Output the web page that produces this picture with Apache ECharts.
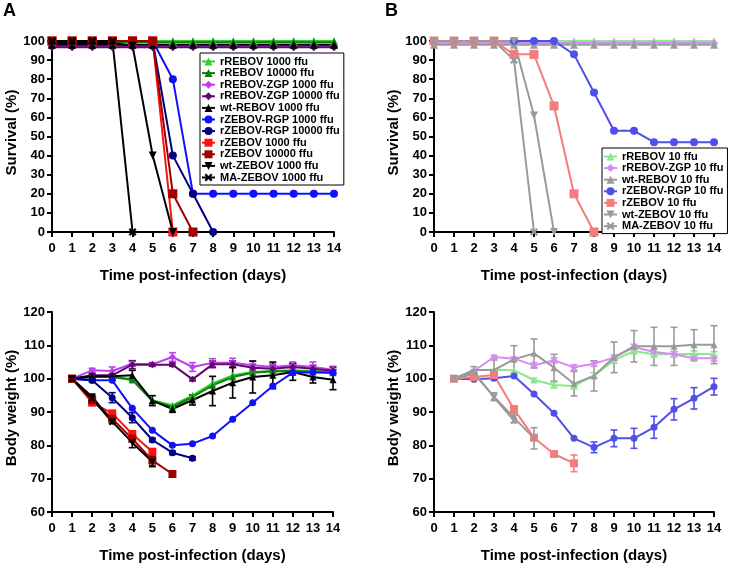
<!DOCTYPE html>
<html>
<head>
<meta charset="utf-8">
<title>Survival and body weight</title>
<script src="https://cdn.jsdelivr.net/npm/echarts@6/dist/echarts.min.js"></script>
<style>
  html, body { margin: 0; padding: 0; background: #fff; }
  #chart { width: 734px; height: 569px; }
</style>
</head>
<body>
<div id="chart"></div>
<script>
// === 数据 (index = day) ===
const days = [0, 1, 2, 3, 4, 5, 6, 7, 8, 9, 10, 11, 12, 13, 14]
const survTicks = [0, 10, 20, 30, 40, 50, 60, 70, 80, 90, 100]
const weightTicks = [60, 70, 80, 90, 100, 110, 120]

// A 存活率 (%)
const sA_rREBOV1000 = [100, 100, 100, 100, 100, 100, 100, 100, 100, 100, 100, 100, 100, 100, 100]
const sA_rREBOV10000 = [99.3, 99.3, 99.3, 99.3, 99.3, 99.3, 99.3, 99.3, 99.3, 99.3, 99.3, 99.3, 99.3, 99.3, 99.3]
const sA_ZGP1000 = [97.3, 97.3, 97.3, 97.3, 97.3, 97.3, 97.3, 97.3, 97.3, 97.3, 97.3, 97.3, 97.3, 97.3, 97.3]
const sA_ZGP10000 = [96.7, 96.7, 96.7, 96.7, 96.7, 96.7, 96.7, 96.7, 96.7, 96.7, 96.7, 96.7, 96.7, 96.7, 96.7]
const sA_wtREBOV = [98, 98, 98, 98, 98, 98, 98, 98, 98, 98, 98, 98, 98, 98, 98]
const sA_RGP1000 = [100, 100, 100, 100, 100, 100, 80, 20, 20, 20, 20, 20, 20, 20, 20]
const sA_RGP10000 = [100, 100, 100, 100, 100, 100, 40, 20, 0]
const sA_rZEBOV1000 = [100, 100, 100, 100, 100, 100, 0]
const sA_rZEBOV10000 = [100, 100, 100, 100, 100, 100, 20, 0]
const sA_wtZEBOV = [99, 99, 99, 99, 97.5, 40, 0]
const sA_MAZEBOV = [100, 100, 100, 100, 0]

// A 体重 (%)
const wA_rREBOV1000 = [null, 100, 100.5, 100.5, 99.5, 93.5, 92, 95, 98.6, 101, 102, 102.3, 102.5, 102.3, 102]
const wA_rREBOV10000 = [null, 100, 100.5, 100.5, 99.8, 93.3, 91.5, 94.5, 98, 100.5, 101.8, 102.2, 102.3, 102, 101.8]
const wA_ZGP1000 = [null, 100, 102.5, 102.3, 104.5, 104.3, 106.5, 103.5, 104.8, 104.8, 104, 103.5, 104, 103.5, 102.7]
const wA_ZGP10000 = [null, 100, 101, 101, 104.2, 104.2, 104.2, 99.8, 104.3, 104.3, 103.3, 103, 103.5, 103, 102.4]
const wA_wtREBOV = [null, 100, 100.8, 100.7, 101, 93.4, 90.9, 93.6, 96.3, 98.8, 100.5, 101, 102, 100.5, 99.7]
const wA_RGP1000 = [null, 100, 99.5, 99.5, 91.1, 84.5, 80, 80.5, 82.8, 87.8, 92.8, 97.8, 101.8, 101.9, 101.8]
const wA_RGP10000 = [null, 100, 99.5, 94.3, 88.3, 81.6, 77.8, 76.1]
const wA_rZEBOV1000 = [null, 100, 92.8, 89.6, 83.4, 78.1]
const wA_rZEBOV10000 = [null, 100, 93.5, 88, 82, 75.5, 71.4]
const wA_wtZEBOV = [null, 100, 94.6, 87.1, 80.8, 75.1]
const wA_MAZEBOV = [null, 100, 94, 87]

// A 误差 (±)
const eA_ZGP1000 = [null, 0, 0.6, 1.2, 0.8, 0.5, 1.3, 1.3, 1.2, 1.3, 1.2, 1, 1, 1.5, 1]
const eA_ZGP10000 = [null, 0, 0.5, 0.5, 1.2, 0.5, 0.5, 0.5, 1, 1, 1, 1, 1, 1, 1]
const eA_wtREBOV = [null, 0, 0.5, 0.5, 1.5, 1.5, 1, 1.5, 4.4, 4.6, 4.8, 4, 2.5, 1.8, 3]
const eA_RGP10000 = [null, 0, 0.5, 1.5, 1.5, 0.5, 0.5, 0.5]
const eA_rZEBOV10000 = [null, 0, 0.5, 0.5, 1, 1.5, 0.5]
const eA_wtZEBOV = [null, 0, 0.5, 0.5, 1.5, 1.5]

// B 存活率 (%)
const sB_rREBOV10 = [100, 100, 100, 100, 100, 100, 100, 100, 100, 100, 100, 100, 100, 100, 100]
const sB_ZGP10 = [99, 99, 99, 99, 99, 99, 99, 99, 99, 99, 99, 99, 99, 99, 99]
const sB_wtREBOV10 = [98, 98, 98, 98, 98, 98, 98, 98, 98, 98, 98, 98, 98, 98, 98]
const sB_RGP10 = [100, 100, 100, 100, 100, 100, 100, 93, 73, 53, 53, 47, 47, 47, 47]
const sB_rZEBOV10 = [100, 100, 100, 100, 93, 93, 66, 20, 0]
const sB_wtZEBOV10 = [100, 100, 100, 100, 100, 61, 0]
const sB_MAZEBOV10 = [100, 100, 100, 100, 90, 0]

// B 体重 (%)
const wB_rREBOV10 = [null, 100, 102.5, 102.7, 102.5, 99.6, 98.1, 97.8, 101, 105.5, 108.3, 107.3, 107.3, 107.5, 107.3]
const wB_ZGP10 = [null, 100, 102.3, 106.5, 106, 104, 105.5, 103.4, 104.5, 106.3, 109.5, 108, 107.3, 106.1, 106.1]
const wB_wtREBOV10 = [null, 100, 102.6, 102.6, 105.8, 107.6, 103.3, 98.5, 100.8, 106.4, 109.7, 109.7, 109.7, 110.2, 110.2]
const wB_RGP10 = [null, 100, 99.8, 100.1, 100.8, 95.4, 89.6, 82.1, 79.4, 82.1, 82.1, 85.4, 90.8, 94.1, 97.6]
const wB_rZEBOV10 = [null, 100, 100.5, 101.1, 90.8, 82.3, 77.4, 74.6]
const wB_wtZEBOV10 = [null, 100, 101.5, 94.6, 88.3, 82.1]
const wB_MAZEBOV10 = [null, 100, 102, 94.4, 87.4]

// B 误差 (±)
const eB_rREBOV10 = [null, 0, 0, 0, 0, 0.5, 0.8, 0.8, 0.8, 0.8, 0.8, 0.8, 0.8, 0.8, 0.8]
const eB_ZGP10 = [null, 0, 0, 0.5, 0.5, 0.8, 0.8, 0.8, 0.8, 0.8, 0.8, 0.8, 0.8, 0.8, 0.8]
const eB_wtREBOV10 = [null, 0, 1, 3, 4.1, 4.3, 4, 3.7, 4.5, 4.6, 4.7, 5.7, 5.7, 4.5, 5.7]
const eB_RGP10 = [null, 0, 0, 0, 0, 0, 0, 0, 1.6, 2.5, 3, 3.3, 3.2, 3.2, 2.5]
const eB_rZEBOV10 = [null, 0, 0, 0, 1, 0.5, 0.5, 2.5]
const eB_wtZEBOV10 = [null, 0, 0.5, 1.2, 1.5, 3.2]

// 组别 (名称, 颜色, 符号)
const X_PATH = 'path://M0,2L2,0L5,3L8,0L10,2L7,5L10,8L8,10L5,7L2,10L0,8L3,5Z'
const groupsA = [
  { name: 'rREBOV 1000 ffu', color: '#33cc33', symbol: 'triangle', surv: sA_rREBOV1000, weight: wA_rREBOV1000 },
  { name: 'rREBOV 10000 ffu', color: '#0a800a', symbol: 'triangle', surv: sA_rREBOV10000, weight: wA_rREBOV10000 },
  { name: 'rREBOV-ZGP 1000 ffu', color: '#c23ef0', symbol: 'diamond', surv: sA_ZGP1000, weight: wA_ZGP1000, err: eA_ZGP1000 },
  { name: 'rREBOV-ZGP 10000 ffu', color: '#5e0a6e', symbol: 'diamond', surv: sA_ZGP10000, weight: wA_ZGP10000, err: eA_ZGP10000 },
  { name: 'wt-REBOV 1000 ffu', color: '#000000', symbol: 'triangle', surv: sA_wtREBOV, weight: wA_wtREBOV, err: eA_wtREBOV },
  { name: 'rZEBOV-RGP 1000 ffu', color: '#1010ff', symbol: 'circle', surv: sA_RGP1000, weight: wA_RGP1000 },
  { name: 'rZEBOV-RGP 10000 ffu', color: '#000080', symbol: 'circle', surv: sA_RGP10000, weight: wA_RGP10000, err: eA_RGP10000 },
  { name: 'rZEBOV 1000 ffu', color: '#ff1010', symbol: 'rect', surv: sA_rZEBOV1000, weight: wA_rZEBOV1000 },
  { name: 'rZEBOV 10000 ffu', color: '#a00000', symbol: 'rect', surv: sA_rZEBOV10000, weight: wA_rZEBOV10000, err: eA_rZEBOV10000 },
  { name: 'wt-ZEBOV 1000 ffu', color: '#000000', symbol: 'triangle', rotate: 180, surv: sA_wtZEBOV, weight: wA_wtZEBOV, err: eA_wtZEBOV },
  { name: 'MA-ZEBOV 1000 ffu', color: '#000000', symbol: X_PATH, surv: sA_MAZEBOV, weight: wA_MAZEBOV }
]
const groupsB = [
  { name: 'rREBOV 10 ffu', color: '#8de88d', symbol: 'triangle', surv: sB_rREBOV10, weight: wB_rREBOV10, err: eB_rREBOV10 },
  { name: 'rREBOV-ZGP 10 ffu', color: '#d58cf2', symbol: 'diamond', surv: sB_ZGP10, weight: wB_ZGP10, err: eB_ZGP10 },
  { name: 'wt-REBOV 10 ffu', color: '#9a9a9a', symbol: 'triangle', surv: sB_wtREBOV10, weight: wB_wtREBOV10, err: eB_wtREBOV10 },
  { name: 'rZEBOV-RGP 10 ffu', color: '#4f4fea', symbol: 'circle', surv: sB_RGP10, weight: wB_RGP10, err: eB_RGP10 },
  { name: 'rZEBOV 10 ffu', color: '#f47c7c', symbol: 'rect', surv: sB_rZEBOV10, weight: wB_rZEBOV10, err: eB_rZEBOV10 },
  { name: 'wt-ZEBOV 10 ffu', color: '#9a9a9a', symbol: 'triangle', rotate: 180, surv: sB_wtZEBOV10, weight: wB_wtZEBOV10, err: eB_wtZEBOV10 },
  { name: 'MA-ZEBOV 10 ffu', color: '#9a9a9a', symbol: X_PATH, surv: sB_MAZEBOV10, weight: wB_MAZEBOV10 }
]

// === 样式 ===
const FONT = '"Liberation Sans", Arial, sans-serif'
const nameStyle = { color: '#000', fontSize: 15, fontWeight: 'bold', fontFamily: FONT }
const labelStyle = { color: '#000', fontSize: 13, fontWeight: 'bold', fontFamily: FONT }

const toPoints = (arr) => days.filter(d => arr[d] != null).map(d => [d, arr[d]])

const xAxisOf = (gridIndex) => ({
  type: 'value', gridIndex, min: 0, max: 14, interval: 1,
  name: 'Time post-infection (days)', nameLocation: 'middle', nameGap: 36,
  nameTextStyle: nameStyle,
  axisLine: { show: true, onZero: false, lineStyle: { color: '#000', width: 2 } },
  axisTick: { show: true, length: 5, lineStyle: { color: '#000', width: 2 } },
  axisLabel: { margin: 10, ...labelStyle },
  splitLine: { show: false }
})

const yAxisOf = (gridIndex, name, ticks, gap) => ({
  type: 'value', gridIndex, min: ticks[0], max: ticks[ticks.length - 1], interval: ticks[1] - ticks[0],
  name, nameLocation: 'middle', nameGap: gap, nameRotate: 90,
  nameTextStyle: { ...nameStyle, padding: [0, 0, 0, 8] },
  axisLine: { show: true, onZero: false, lineStyle: { color: '#000', width: 2 } },
  axisTick: { show: true, length: 5, lineStyle: { color: '#000', width: 2 } },
  axisLabel: { margin: 7, ...labelStyle },
  splitLine: { show: false }
})

const lineSeries = (g, data, axisIndex, size, width) => ({
  type: 'line', name: g.name,
  xAxisIndex: axisIndex, yAxisIndex: axisIndex,
  data: toPoints(data),
  symbol: g.symbol, symbolSize: g.symbol === 'rect' ? size + 1 : size,
  symbolRotate: g.rotate || 0,
  lineStyle: { color: g.color, width },
  itemStyle: { color: g.color },
  z: 3
})

// 误差线 (自定义系列)
const errSeries = (g, axisIndex) => ({
  type: 'custom', name: g.name + ' err', silent: true,
  xAxisIndex: axisIndex, yAxisIndex: axisIndex, z: 2,
  data: days.filter(d => g.weight[d] != null && g.err[d] > 0.3)
    .map(d => [d, g.weight[d] - g.err[d], g.weight[d] + g.err[d]]),
  renderItem: (params, api) => {
    const lo = api.coord([api.value(0), api.value(1)])
    const hi = api.coord([api.value(0), api.value(2)])
    const st = { stroke: g.color, lineWidth: 1.6 }
    return {
      type: 'group',
      children: [
        { type: 'line', shape: { x1: lo[0], y1: lo[1], x2: hi[0], y2: hi[1] }, style: st },
        { type: 'line', shape: { x1: lo[0] - 3.5, y1: lo[1], x2: lo[0] + 3.5, y2: lo[1] }, style: st },
        { type: 'line', shape: { x1: hi[0] - 3.5, y1: hi[1], x2: hi[0] + 3.5, y2: hi[1] }, style: st }
      ]
    }
  }
})

const series = []
groupsA.forEach(g => series.push(lineSeries(g, g.surv, 0, 8, 2)))
groupsA.forEach(g => { if (g.err) series.push(errSeries(g, 1)) })
groupsA.forEach(g => series.push(lineSeries(g, g.weight, 1, 7, 2)))
groupsB.forEach(g => series.push(lineSeries(g, g.surv, 2, 8, 2)))
groupsB.forEach(g => { if (g.err) series.push(errSeries(g, 3)) })
groupsB.forEach(g => series.push(lineSeries(g, g.weight, 3, 7, 2)))

const legendOf = (groups, left, top) => ({
  orient: 'vertical', left, top,
  data: groups.map(g => g.name),
  itemWidth: 13, itemHeight: 10, itemGap: 0.6,
  padding: [3, 4, 2, 1],
  borderColor: '#000', borderWidth: 1, backgroundColor: '#fff',
  selectedMode: false,
  textStyle: { color: '#000', fontSize: 11, fontWeight: 'bold', fontFamily: FONT, lineHeight: 10 }
})

const chart = echarts.init(document.getElementById('chart'))
chart.setOption({
  animation: false,
  backgroundColor: '#fff',
  title: [
    { text: 'A', left: 3, top: 2, padding: 0, textStyle: { fontSize: 18, fontWeight: 'bold', fontFamily: FONT, color: '#000' } },
    { text: 'B', left: 385, top: 2, padding: 0, textStyle: { fontSize: 18, fontWeight: 'bold', fontFamily: FONT, color: '#000' } }
  ],
  grid: [
    { left: 52, top: 41, width: 282, height: 191 },
    { left: 52, top: 312, width: 281, height: 200 },
    { left: 434, top: 41, width: 280, height: 191 },
    { left: 434, top: 312, width: 280, height: 200 }
  ],
  xAxis: [xAxisOf(0), xAxisOf(1), xAxisOf(2), xAxisOf(3)],
  yAxis: [
    yAxisOf(0, 'Survival (%)', survTicks, 32),
    yAxisOf(1, 'Body weight (%)', weightTicks, 32),
    yAxisOf(2, 'Survival (%)', survTicks, 29),
    yAxisOf(3, 'Body weight (%)', weightTicks, 31)
  ],
  legend: [legendOf(groupsA, 200, 53), legendOf(groupsB, 602, 148)],
  series
})
</script>
</body>
</html>
